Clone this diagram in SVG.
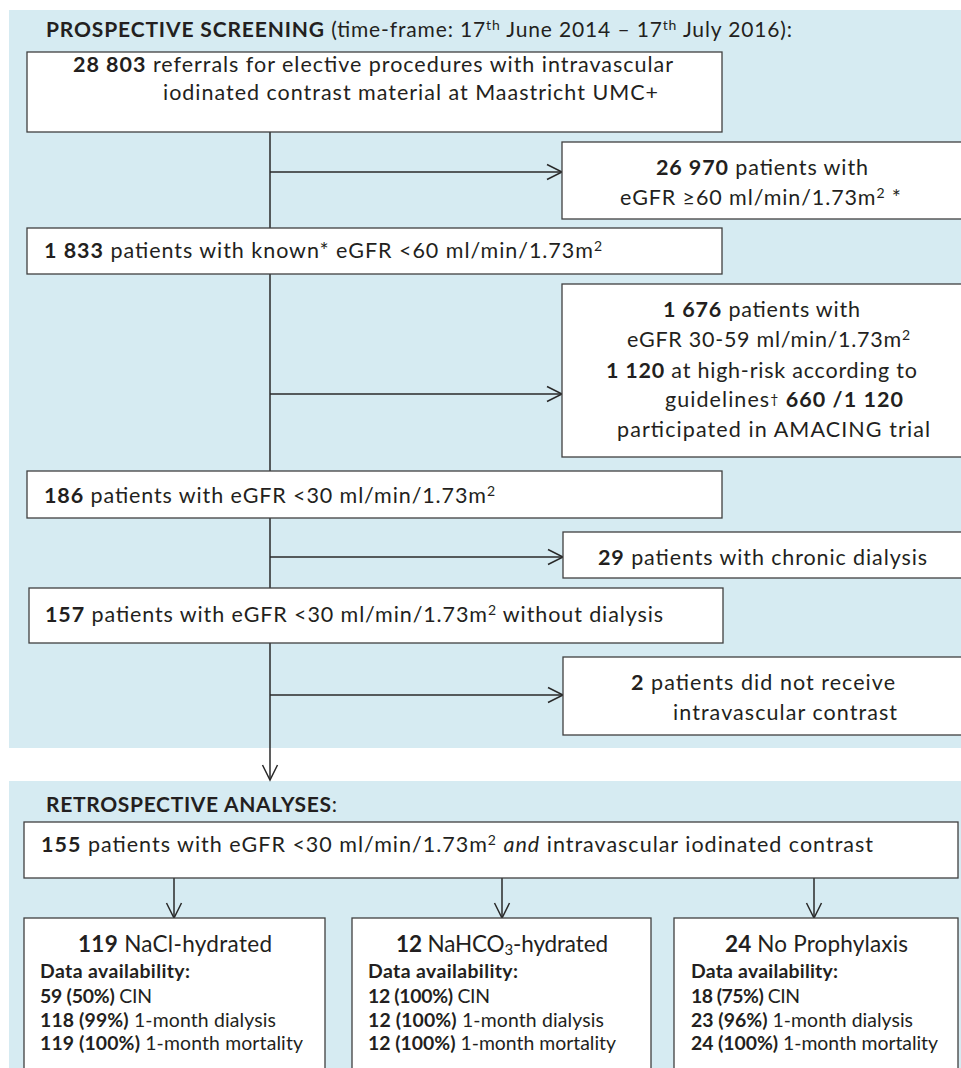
<svg xmlns="http://www.w3.org/2000/svg" width="961" height="1068" viewBox="0 0 961 1068">
<style>
.panel{fill:#d6ebf2}
.box{fill:#ffffff;stroke:#404040;stroke-width:1.3}
.ln{fill:none;stroke:#2a2a2a;stroke-width:1.5}
text{font-family:Lato,"Liberation Sans",sans-serif;fill:#231f20;font-size:21.5px}
.b{font-weight:700}
.i{font-style:italic}
.sup{font-size:14px}
.h{font-size:22.5px}
.d{font-size:19.4px}
.tt{font-size:21px}
</style>
<defs>
<marker id="arr" markerUnits="userSpaceOnUse" markerWidth="18" markerHeight="18" viewBox="0 0 18 18" refX="16" refY="9" orient="auto">
<path d="M1,1.5 L16,9 L1,16.5" fill="none" stroke="#2a2a2a" stroke-width="1.5"/>
</marker>
</defs>
<rect class="panel" x="9" y="10" width="952" height="738"/>
<rect class="panel" x="9" y="781" width="952" height="287"/>
<text class="tt" x="46" y="37" textLength="746" lengthAdjust="spacing"><tspan class="b">PROSPECTIVE SCREENING</tspan> (time-frame: 17<tspan class="sup" dy="-7">th</tspan><tspan dy="7"> June 2014 – 17</tspan><tspan class="sup" dy="-7">th</tspan><tspan dy="7"> July 2016):</tspan></text>
<text class="tt" x="46" y="812" textLength="291" lengthAdjust="spacing"><tspan class="b">RETROSPECTIVE ANALYSES</tspan>:</text>
<g id="connectors">
<line class="ln" x1="270" y1="132" x2="270" y2="780" marker-end="url(#arr)"/>
<line class="ln" x1="270" y1="172" x2="562" y2="172" marker-end="url(#arr)"/>
<line class="ln" x1="270" y1="394" x2="562" y2="394" marker-end="url(#arr)"/>
<line class="ln" x1="270" y1="557" x2="563" y2="557" marker-end="url(#arr)"/>
<line class="ln" x1="270" y1="695" x2="563" y2="695" marker-end="url(#arr)"/>
<line class="ln" x1="174" y1="878" x2="174" y2="918" marker-end="url(#arr)"/>
<line class="ln" x1="502" y1="878" x2="502" y2="918" marker-end="url(#arr)"/>
<line class="ln" x1="814" y1="878" x2="814" y2="918" marker-end="url(#arr)"/>
</g>
<g id="n-referrals">
<rect class="box" x="27" y="52" width="695" height="80"/>
<text x="73" y="72" textLength="600" lengthAdjust="spacing"><tspan class="b">28 803</tspan> referrals for elective procedures with intravascular</text>
<text x="163" y="100" textLength="495" lengthAdjust="spacing">iodinated contrast material at Maastricht UMC+</text>
</g>
<g id="n-26970">
<rect class="box" x="562" y="142" width="402" height="77"/>
<text x="656" y="175" textLength="212" lengthAdjust="spacing"><tspan class="b">26 970</tspan> patients with</text>
<text x="620" y="205" textLength="281" lengthAdjust="spacing">eGFR ≥60 ml/min/1.73m<tspan class="sup" dy="-7">2</tspan><tspan dy="7"> *</tspan></text>
</g>
<g id="n-1833">
<rect class="box" x="27" y="228" width="695" height="46"/>
<text x="44" y="258" textLength="558" lengthAdjust="spacing"><tspan class="b">1 833</tspan> patients with known* eGFR &lt;60 ml/min/1.73m<tspan class="sup" dy="-7">2</tspan></text>
</g>
<g id="n-1676">
<rect class="box" x="562" y="284" width="402" height="173"/>
<text x="663" y="317" textLength="197" lengthAdjust="spacing"><tspan class="b">1 676</tspan> patients with</text>
<text x="627" y="347" textLength="283" lengthAdjust="spacing">eGFR 30-59 ml/min/1.73m<tspan class="sup" dy="-7">2</tspan></text>
<text x="606" y="378" textLength="311" lengthAdjust="spacing"><tspan class="b">1 120</tspan> at high-risk according to</text>
<text x="665" y="407" textLength="238" lengthAdjust="spacing">guidelines<tspan class="sup" dy="-3">†</tspan><tspan class="b" dy="3"> 660 /1 120</tspan></text>
<text x="617" y="437" textLength="313" lengthAdjust="spacing">participated in AMACING trial</text>
</g>
<g id="n-186">
<rect class="box" x="27" y="471" width="695" height="47"/>
<text x="44" y="503" textLength="451" lengthAdjust="spacing"><tspan class="b">186</tspan> patients with eGFR &lt;30 ml/min/1.73m<tspan class="sup" dy="-7">2</tspan></text>
</g>
<g id="n-29">
<rect class="box" x="563" y="532" width="401" height="46"/>
<text x="598" y="565" textLength="329" lengthAdjust="spacing"><tspan class="b">29</tspan> patients with chronic dialysis</text>
</g>
<g id="n-157">
<rect class="box" x="29" y="588" width="694" height="55"/>
<text x="45" y="622" textLength="618" lengthAdjust="spacing"><tspan class="b">157</tspan> patients with eGFR &lt;30 ml/min/1.73m<tspan class="sup" dy="-7">2</tspan><tspan dy="7"> without dialysis</tspan></text>
</g>
<g id="n-2">
<rect class="box" x="563" y="657" width="401" height="78"/>
<text x="631" y="690" textLength="264" lengthAdjust="spacing"><tspan class="b">2</tspan> patients did not receive</text>
<text x="673" y="720" textLength="224" lengthAdjust="spacing">intravascular contrast</text>
</g>
<g id="n-155">
<rect class="box" x="24" y="822" width="934" height="56"/>
<text x="41" y="852" textLength="832" lengthAdjust="spacing"><tspan class="b">155</tspan> patients with eGFR &lt;30 ml/min/1.73m<tspan class="sup" dy="-7">2</tspan><tspan dy="7"> </tspan><tspan class="i">and</tspan> intravascular iodinated contrast</text>
</g>
<g id="n-nacl">
<rect class="box" x="24" y="918" width="301" height="170"/>
<text class="h" x="78" y="952" textLength="194" lengthAdjust="spacing"><tspan class="b">119</tspan> NaCl-hydrated</text>
<text class="d b" x="40" y="978" textLength="150" lengthAdjust="spacing">Data availability:</text>
<text class="d" x="40" y="1003" textLength="112" lengthAdjust="spacing"><tspan class="b">59 (50%)</tspan> CIN</text>
<text class="d" x="40" y="1027" textLength="236" lengthAdjust="spacing"><tspan class="b">118 (99%)</tspan> 1-month dialysis</text>
<text class="d" x="40" y="1050" textLength="263" lengthAdjust="spacing"><tspan class="b">119 (100%)</tspan> 1-month mortality</text>
</g>
<g id="n-nahco3">
<rect class="box" x="352" y="918" width="299" height="170"/>
<text class="h" x="396" y="952" textLength="212" lengthAdjust="spacing"><tspan class="b">12</tspan> NaHCO<tspan font-size="15" dy="3">3</tspan><tspan dy="-3">-hydrated</tspan></text>
<text class="d b" x="368" y="978" textLength="150" lengthAdjust="spacing">Data availability:</text>
<text class="d" x="368" y="1003" textLength="122" lengthAdjust="spacing"><tspan class="b">12 (100%)</tspan> CIN</text>
<text class="d" x="368" y="1027" textLength="236" lengthAdjust="spacing"><tspan class="b">12 (100%)</tspan> 1-month dialysis</text>
<text class="d" x="368" y="1050" textLength="248" lengthAdjust="spacing"><tspan class="b">12 (100%)</tspan> 1-month mortality</text>
</g>
<g id="n-noproph">
<rect class="box" x="674" y="918" width="284" height="170"/>
<text class="h" x="725" y="952" textLength="183" lengthAdjust="spacing"><tspan class="b">24</tspan> No Prophylaxis</text>
<text class="d b" x="691" y="978" textLength="147" lengthAdjust="spacing">Data availability:</text>
<text class="d" x="691" y="1003" textLength="109" lengthAdjust="spacing"><tspan class="b">18 (75%)</tspan> CIN</text>
<text class="d" x="691" y="1027" textLength="222" lengthAdjust="spacing"><tspan class="b">23 (96%)</tspan> 1-month dialysis</text>
<text class="d" x="691" y="1050" textLength="247" lengthAdjust="spacing"><tspan class="b">24 (100%)</tspan> 1-month mortality</text>
</g>
</svg>
